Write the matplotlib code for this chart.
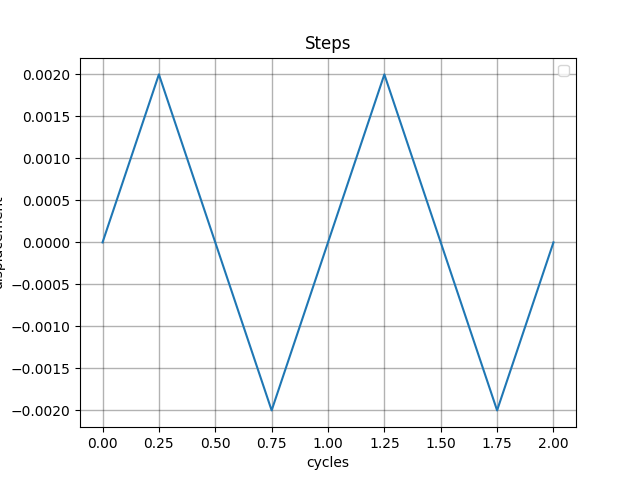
import matplotlib
matplotlib.use("Agg")
import matplotlib.pyplot as plt

cycles = [0.0, 0.25, 0.5, 0.75, 1.0, 1.25, 1.5, 1.75, 2.0]
displacement = [0.0, 0.002, 0.0, -0.002, 0.0, 0.002, 0.0, -0.002, 0.0]

fig = plt.figure(figsize=(6.4, 4.8), dpi=100)
plt.plot(cycles, displacement)
plt.title("Steps")
plt.xlabel("cycles")
plt.ylabel("displacement")
plt.grid(color='k', alpha=0.3, linewidth=1)
plt.legend()

plt.savefig("out.png")
